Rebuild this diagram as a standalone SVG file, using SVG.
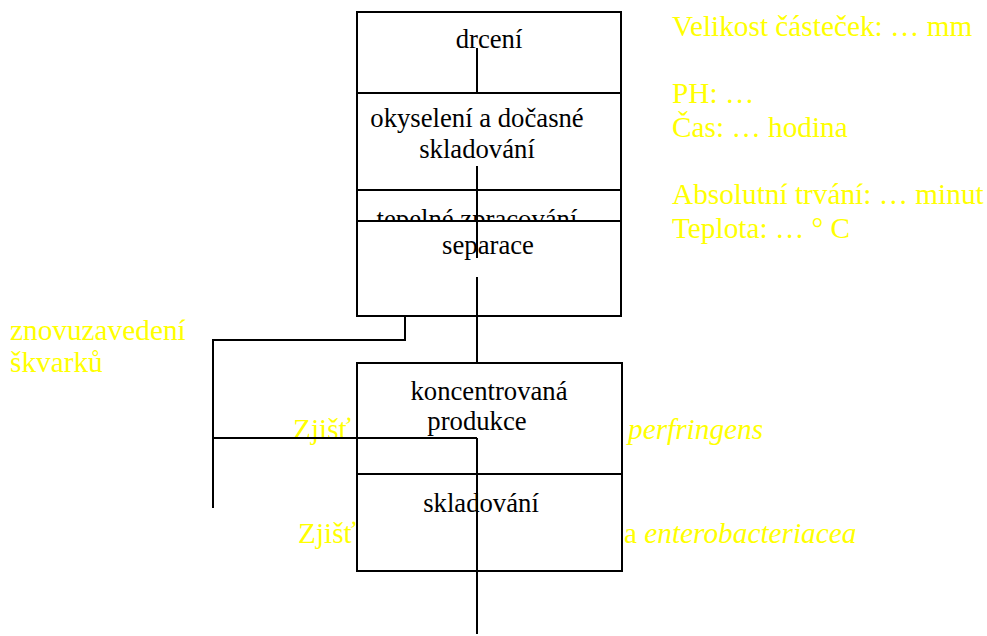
<svg xmlns="http://www.w3.org/2000/svg" width="987" height="636" viewBox="0 0 987 636">
  <style>
    text { font-family: 'Liberation Serif', Tinos, 'Times New Roman', 'DejaVu Serif', serif; }
    .box { fill: #ffffff; stroke: #000000; stroke-width: 2; }
    .lbl { font-size: 26.7px; fill: #000000; text-anchor: middle; }
    .note { font-size: 29.3px; fill: #ffff00; }
    .it { font-style: italic; }
    .wire { fill: none; stroke: #000000; stroke-width: 2; }
  </style>
  <rect width="987" height="636" fill="#ffffff"/>

  <!-- process parameters (right column) -->
  <g id="parameters" font-family="Liberation Serif, serif">
    <text class="note" x="672" y="36">Velikost částeček: … mm</text>
    <text class="note" x="672" y="103">PH: …</text>
    <text class="note" x="672" y="136.5">Čas: … hodina</text>
    <text class="note" x="672" y="204">Absolutní trvání: … minut</text>
    <text class="note" x="672" y="237.5">Teplota: … ° C</text>
  </g>

  <!-- side notes -->
  <g id="notes">
    <text class="note" x="10" y="340">znovuzavedení</text>
    <text class="note" x="10" y="372">škvarků</text>
    <text class="note" x="293" y="439">Zjišť</text>
    <text class="note it" x="628" y="439">perfringens</text>
    <text class="note" x="298" y="543">Zjišť</text>
    <text class="note" x="624" y="543">a <tspan class="it">enterobacteriacea</tspan></text>
  </g>

  <!-- process steps -->
  <g id="drceni">
    <rect class="box" x="357" y="12" width="264" height="81"/>
    <text class="lbl" x="489" y="48">drcení</text>
  </g>
  <g id="okyseleni">
    <rect class="box" x="357" y="93" width="264" height="97"/>
    <text class="lbl" x="477" y="127">okyselení a dočasné</text>
    <text class="lbl" x="477" y="158">skladování</text>
  </g>
  <g id="tepelne-zpracovani">
    <rect class="box" x="357" y="190" width="264" height="40"/>
    <text class="lbl" x="477" y="228">tepelné zpracování</text>
  </g>
  <g id="separace">
    <rect class="box" x="357" y="221" width="264" height="95"/>
    <text class="lbl" x="488" y="254">separace</text>
  </g>
  <g id="koncentrovana-produkce">
    <rect class="box" x="357" y="363" width="265" height="111"/>
    <text class="lbl" x="489" y="400">koncentrovaná</text>
    <text class="lbl" x="477" y="430">produkce</text>
  </g>
  <g id="skladovani">
    <rect class="box" x="357" y="474" width="265" height="97"/>
    <text class="lbl" x="481" y="512">skladování</text>
  </g>

  <!-- flow lines -->
  <g id="connectors" class="wire">
    <path d="M477 48 V93"/>
    <path d="M477 166 V258"/>
    <path d="M477 277 V363"/>
    <path d="M477 438 V634"/>
    <path d="M405 316 V340 H213 V508"/>
    <path d="M213 438 H477"/>
  </g>
</svg>
